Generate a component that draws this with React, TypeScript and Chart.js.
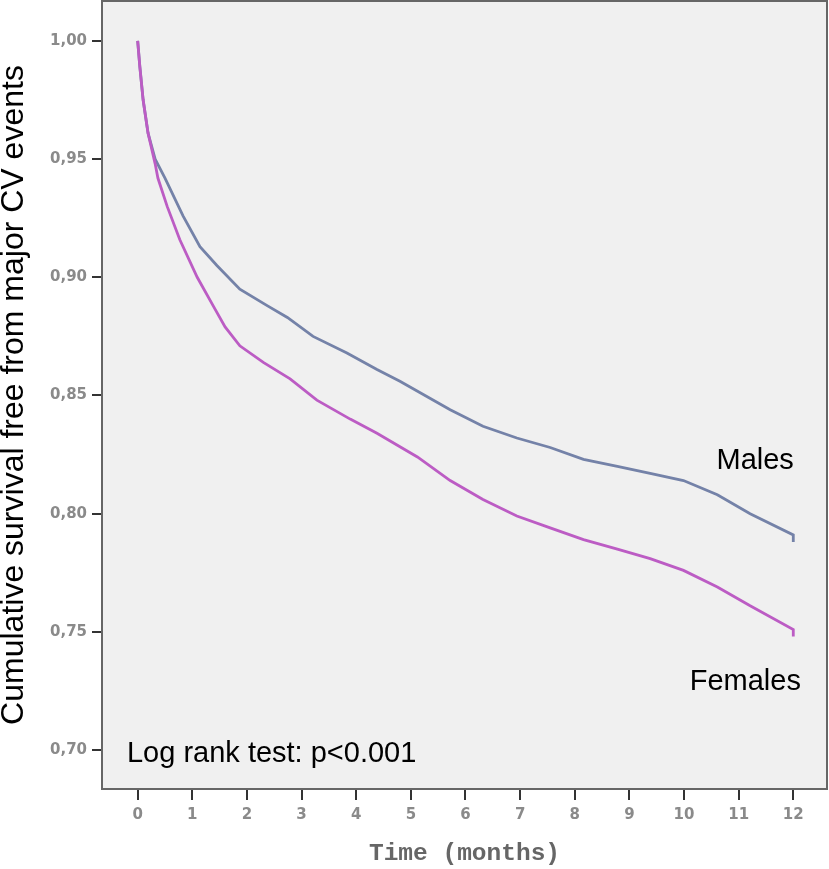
import React, { useEffect, useRef } from "react";
import { Chart, registerables } from "chart.js";

Chart.register(...registerables);

// ---- Data ----
const MALE_T = [0, 0.04, 0.1, 0.19, 0.32, 0.5, 0.83, 1.14, 1.45, 1.87, 2.37, 2.74, 3.21, 3.83, 4.38, 4.8, 5.72, 6.32, 6.94, 7.55, 8.16, 8.78, 9.38, 9.99, 10.61, 11.21, 12.0, 12.0];
const MALE_S = [1.0, 0.989, 0.975, 0.961, 0.95, 0.942, 0.926, 0.913, 0.905, 0.895, 0.888, 0.883, 0.875, 0.868, 0.861, 0.856, 0.844, 0.837, 0.832, 0.828, 0.823, 0.82, 0.817, 0.814, 0.808, 0.8, 0.791, 0.788];

const FEMALE_T = [0, 0.04, 0.1, 0.19, 0.32, 0.37, 0.54, 0.77, 1.09, 1.38, 1.6, 1.87, 2.3, 2.79, 3.28, 3.89, 4.38, 5.12, 5.72, 6.32, 6.94, 7.55, 8.16, 8.78, 9.38, 9.99, 10.61, 11.21, 12.0, 12.0];
const FEMALE_S = [1.0, 0.989, 0.975, 0.961, 0.948, 0.942, 0.93, 0.916, 0.9, 0.888, 0.879, 0.871, 0.864, 0.857, 0.848, 0.84, 0.834, 0.824, 0.814, 0.806, 0.799, 0.794, 0.789, 0.785, 0.781, 0.776, 0.769, 0.761, 0.751, 0.748];

const X_TICKS = [0, 1, 2, 3, 4, 5, 6, 7, 8, 9, 10, 11, 12];
const Y_TICKS = [0.7, 0.75, 0.8, 0.85, 0.9, 0.95, 1.0];

const X_TITLE = "Time (months)";
const Y_TITLE = "Cumulative survival free from major CV events";
const SERIES_NAMES = ["Males", "Females"];
const TEST_TEXT = "Log rank test: p<0.001";

function toPoints(ts: number[], ss: number[]) {
  return ts.map((t, i) => ({ x: t, y: ss[i] }));
}

const framePlugin = {
  id: "framePlugin",
  beforeDraw(chart: any) {
    const { ctx, chartArea } = chart;
    ctx.save();
    ctx.fillStyle = "#f0f0f0";
    ctx.fillRect(chartArea.left, chartArea.top, chartArea.right - chartArea.left, chartArea.bottom - chartArea.top);
    ctx.restore();
  },
  afterDraw(chart: any) {
    const { ctx, chartArea, scales } = chart;
    ctx.save();
    ctx.strokeStyle = "#666";
    ctx.lineWidth = 2;
    ctx.strokeRect(chartArea.left, chartArea.top, chartArea.right - chartArea.left, chartArea.bottom - chartArea.top);

    const xs = scales.x;
    const ys = scales.y;
    ctx.fillStyle = "#000";
    ctx.font = '29px "Liberation Sans", Arial, sans-serif';
    ctx.textBaseline = "alphabetic";
    ctx.textAlign = "right";
    ctx.fillText(SERIES_NAMES[0], xs.getPixelForValue(12.01), ys.getPixelForValue(0.819));
    ctx.fillText(SERIES_NAMES[1], xs.getPixelForValue(12.14), ys.getPixelForValue(0.7255));
    ctx.textAlign = "left";
    ctx.fillText(TEST_TEXT, xs.getPixelForValue(-0.196), ys.getPixelForValue(0.695));
    ctx.restore();
  },
};

export default function App() {
  const canvasRef = useRef<HTMLCanvasElement | null>(null);

  useEffect(() => {
    const canvas = canvasRef.current;
    if (!canvas) return;
    const tickFont = { family: '"DejaVu Sans", sans-serif', size: 15, weight: "bold" as const };
    const chart = new Chart(canvas, {
      type: "line",
      data: {
        datasets: [
          {
            label: SERIES_NAMES[1],
            data: toPoints(FEMALE_T, FEMALE_S),
            borderColor: "#bc5cc4",
            borderWidth: 2.8,
            pointRadius: 0,
            tension: 0,
            fill: false,
            order: 0,
          },
          {
            label: SERIES_NAMES[0],
            data: toPoints(MALE_T, MALE_S),
            borderColor: "#7482a8",
            borderWidth: 2.8,
            pointRadius: 0,
            tension: 0,
            fill: false,
            order: 1,
          },
        ],
      },
      options: {
        animation: false,
        responsive: false,
        devicePixelRatio: 1,
        layout: { padding: { left: 0, top: 1, right: 2, bottom: 0 } },
        plugins: { legend: { display: false }, tooltip: { enabled: false } },
        scales: {
          x: {
            type: "linear",
            min: -0.653,
            max: 12.617,
            afterBuildTicks: (s: any) => {
              s.ticks = X_TICKS.map((v) => ({ value: v }));
            },
            afterFit: (s: any) => {
              s.height = 80;
              s.paddingLeft = 0;
              s.paddingRight = 0;
            },
            grid: { drawOnChartArea: false, drawTicks: true, tickLength: 11, tickColor: "#333", lineWidth: 2 },
            border: { display: false },
            ticks: { autoSkip: false, maxRotation: 0, color: "#8a8a8a", font: tickFont, padding: 6, callback: (v: any) => String(v) },
            title: {
              display: true,
              text: X_TITLE,
              color: "#666",
              font: { family: '"Liberation Mono", "DejaVu Sans Mono", monospace', size: 24.5, weight: "bold", lineHeight: 1.2 },
              padding: 0,
            },
          },
          y: {
            type: "linear",
            min: 0.6835,
            max: 1.0169,
            afterBuildTicks: (s: any) => {
              s.ticks = Y_TICKS.map((v) => ({ value: v }));
            },
            afterFit: (s: any) => {
              s.width = 102;
              s.paddingTop = 0;
              s.paddingBottom = 0;
            },
            grid: { drawOnChartArea: false, drawTicks: true, tickLength: 10, tickColor: "#333", lineWidth: 2 },
            border: { display: false },
            ticks: {
              autoSkip: false,
              color: "#8a8a8a",
              font: tickFont,
              padding: 5,
              callback: (v: any) => Number(v).toFixed(2).replace(".", ","),
            },
            title: {
              display: true,
              text: Y_TITLE,
              color: "#000",
              font: { family: '"Liberation Sans", Arial, sans-serif', size: 32, lineHeight: 0.9 },
              padding: 0,
            },
          },
        },
      },
      plugins: [framePlugin],
    });
    return () => chart.destroy();
  }, []);

  return (
    <div style={{ position: "absolute", left: 0, top: 0, width: 829, height: 869, background: "#fff" }}>
      <canvas ref={canvasRef} width={829} height={869} style={{ display: "block" }} />
    </div>
  );
}
